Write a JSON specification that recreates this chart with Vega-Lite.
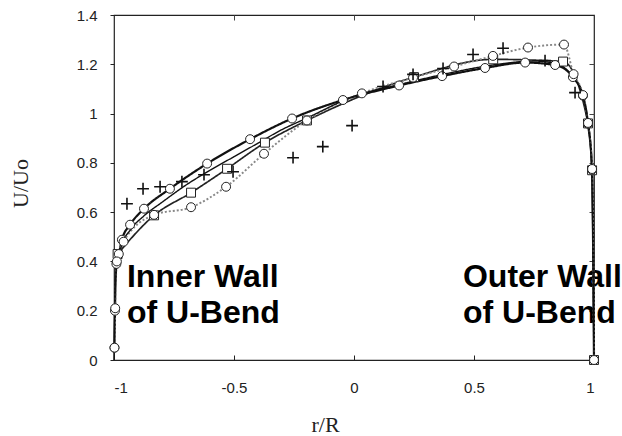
{
  "$schema": "https://vega.github.io/schema/vega-lite/v6.json",
  "width": 480,
  "height": 345,
  "autosize": {"type": "none"},
  "padding": {"left": 114, "top": 15, "right": 28, "bottom": 76},
  "background": "white",
  "config": {
    "view": {"stroke": "#222", "strokeWidth": 1.2},
    "font": "Liberation Sans"
  },
  "datasets": {
    "profiles": [
      {"series": "C", "r": -0.985, "u": 0.43},
      {"series": "C", "r": -0.833, "u": 0.587},
      {"series": "C", "r": -0.679, "u": 0.679},
      {"series": "C", "r": -0.529, "u": 0.776},
      {"series": "C", "r": -0.371, "u": 0.882},
      {"series": "C", "r": -0.196, "u": 0.972},
      {"series": "C", "r": 0.25, "u": 1.148},
      {"series": "C", "r": 0.58, "u": 1.22},
      {"series": "C", "r": 0.871, "u": 1.211},
      {"series": "C", "r": 0.975, "u": 0.96},
      {"series": "C", "r": 0.992, "u": 0.77},
      {"series": "C", "r": 1.0, "u": 0.0},
      {"series": "A", "r": -0.998, "u": 0.05},
      {"series": "A", "r": -0.996, "u": 0.2},
      {"series": "A", "r": -0.99, "u": 0.39},
      {"series": "A", "r": -0.98, "u": 0.43},
      {"series": "A", "r": -0.967, "u": 0.488},
      {"series": "A", "r": -0.933, "u": 0.549},
      {"series": "A", "r": -0.875, "u": 0.614},
      {"series": "A", "r": -0.767, "u": 0.695},
      {"series": "A", "r": -0.612, "u": 0.797},
      {"series": "A", "r": -0.433, "u": 0.896},
      {"series": "A", "r": -0.258, "u": 0.98},
      {"series": "A", "r": -0.046, "u": 1.055},
      {"series": "A", "r": 0.188, "u": 1.114},
      {"series": "A", "r": 0.367, "u": 1.152},
      {"series": "A", "r": 0.546, "u": 1.185},
      {"series": "A", "r": 0.713, "u": 1.207},
      {"series": "A", "r": 0.838, "u": 1.197},
      {"series": "A", "r": 0.912, "u": 1.148},
      {"series": "A", "r": 0.954, "u": 1.073},
      {"series": "A", "r": 0.975, "u": 0.959},
      {"series": "A", "r": 0.992, "u": 0.772},
      {"series": "A", "r": 1.0, "u": 0.0},
      {"series": "B", "r": -0.998, "u": 0.05},
      {"series": "B", "r": -0.995, "u": 0.21},
      {"series": "B", "r": -0.988, "u": 0.4},
      {"series": "B", "r": -0.96, "u": 0.48},
      {"series": "B", "r": -0.833, "u": 0.589},
      {"series": "B", "r": -0.679, "u": 0.62},
      {"series": "B", "r": -0.533, "u": 0.703},
      {"series": "B", "r": -0.375, "u": 0.837},
      {"series": "B", "r": -0.196, "u": 0.972},
      {"series": "B", "r": 0.033, "u": 1.082},
      {"series": "B", "r": 0.246, "u": 1.146},
      {"series": "B", "r": 0.417, "u": 1.191},
      {"series": "B", "r": 0.579, "u": 1.234},
      {"series": "B", "r": 0.725, "u": 1.268},
      {"series": "B", "r": 0.875, "u": 1.28},
      {"series": "B", "r": 0.915, "u": 1.16},
      {"series": "B", "r": 0.954, "u": 1.075},
      {"series": "B", "r": 0.975, "u": 0.962},
      {"series": "B", "r": 0.992, "u": 0.775},
      {"series": "B", "r": 1.0, "u": 0.0},
      {"series": "D", "r": -1.0, "u": 0.0},
      {"series": "D", "r": -0.997, "u": 0.2},
      {"series": "D", "r": -0.99, "u": 0.37},
      {"series": "D", "r": -0.97, "u": 0.46},
      {"series": "D", "r": -0.93, "u": 0.53},
      {"series": "D", "r": -0.875, "u": 0.585},
      {"series": "D", "r": -0.8, "u": 0.64},
      {"series": "D", "r": -0.7, "u": 0.71},
      {"series": "D", "r": -0.6, "u": 0.77},
      {"series": "D", "r": -0.5, "u": 0.825},
      {"series": "D", "r": -0.4, "u": 0.88},
      {"series": "D", "r": -0.3, "u": 0.935},
      {"series": "D", "r": -0.2, "u": 0.98},
      {"series": "D", "r": 0.0, "u": 1.07},
      {"series": "D", "r": 0.2, "u": 1.12},
      {"series": "D", "r": 0.4, "u": 1.165},
      {"series": "D", "r": 0.6, "u": 1.2},
      {"series": "D", "r": 0.75, "u": 1.213},
      {"series": "D", "r": 0.85, "u": 1.2},
      {"series": "D", "r": 0.91, "u": 1.15},
      {"series": "D", "r": 0.95, "u": 1.08},
      {"series": "D", "r": 0.975, "u": 0.96},
      {"series": "D", "r": 0.99, "u": 0.78},
      {"series": "D", "r": 1.0, "u": 0.0}
    ],
    "experiment": [
      {"r": -0.946, "u": 0.634},
      {"r": -0.879, "u": 0.695},
      {"r": -0.808, "u": 0.703},
      {"r": -0.717, "u": 0.724},
      {"r": -0.625, "u": 0.752},
      {"r": -0.504, "u": 0.764},
      {"r": -0.254, "u": 0.821},
      {"r": -0.13, "u": 0.866},
      {"r": -0.008, "u": 0.951},
      {"r": 0.121, "u": 1.11},
      {"r": 0.246, "u": 1.159},
      {"r": 0.371, "u": 1.183},
      {"r": 0.496, "u": 1.24},
      {"r": 0.621, "u": 1.265},
      {"r": 0.796, "u": 1.215},
      {"r": 0.921, "u": 1.085}
    ],
    "walls": [
      {"r": -0.946, "u": 0.297, "label": "Inner Wall"},
      {"r": -0.946, "u": 0.15, "label": "of U-Bend"},
      {"r": 0.454, "u": 0.297, "label": "Outer Wall"},
      {"r": 0.454, "u": 0.15, "label": "of U-Bend"}
    ]
  },
  "layer": [
    {
      "encoding": {
        "x": {
          "field": "r",
          "type": "quantitative",
          "scale": {"domain": [-1, 1], "nice": false, "zero": false},
          "axis": {
            "title": "r/R",
            "values": [-1, -0.5, 0, 0.5, 1],
            "labelExpr": "datum.value + ''",
            "grid": false,
            "domain": false,
            "tickSize": -5,
            "tickColor": "#222",
            "labelPadding": 25,
            "labelFontSize": 15,
            "labelColor": "#222",
            "titleFont": "Liberation Serif",
            "titleFontSize": 22,
            "titleFontWeight": "normal",
            "titleColor": "#222",
            "titleX": 211,
            "titleY": 64,
            "titleBaseline": "middle"
          }
        },
        "y": {
          "field": "u",
          "type": "quantitative",
          "scale": {"domain": [0, 1.4], "nice": false},
          "axis": {
            "title": "U/Uo",
            "values": [0, 0.2, 0.4, 0.6, 0.8, 1, 1.2, 1.4],
            "labelExpr": "datum.value + ''",
            "grid": false,
            "domain": false,
            "tickSize": 4,
            "tickColor": "#222",
            "labelPadding": 13,
            "labelFontSize": 15,
            "labelColor": "#222",
            "titleFont": "Liberation Serif",
            "titleFontSize": 22,
            "titleFontWeight": "normal",
            "titleColor": "#222",
            "titleAngle": -90,
            "titleX": -94,
            "titleY": 168,
            "titleAlign": "center",
            "titleBaseline": "middle"
          }
        }
      },
      "layer": [
        {
          "data": {"name": "walls"},
          "mark": {"type": "text", "font": "Liberation Sans", "fontWeight": "bold", "fontSize": 32, "align": "left", "baseline": "alphabetic", "color": "black"},
          "encoding": {"text": {"field": "label"}}
        },
        {
          "data": {"name": "profiles"},
          "mark": {"type": "line", "interpolate": "monotone"},
          "encoding": {
            "detail": {"field": "series"},
            "color": {
              "field": "series",
              "scale": {"domain": ["A", "B", "C", "D"], "range": ["#111", "#888", "#222", "#111"]},
              "legend": null
            },
            "strokeWidth": {
              "field": "series",
              "type": "nominal",
              "scale": {"domain": ["A", "B", "C", "D"], "range": [2.2, 1.4, 1, 2]},
              "legend": null
            },
            "strokeDash": {
              "field": "series",
              "scale": {"domain": ["A", "B", "C", "D"], "range": [[1, 0], [2, 2], [1, 0], [1, 0]]},
              "legend": null
            }
          }
        },
        {
          "data": {"name": "profiles"},
          "transform": [{"filter": "datum.series != 'D'"}],
          "mark": {"type": "point", "filled": true, "fill": "white", "stroke": "#222", "strokeWidth": 1, "size": 80, "opacity": 1},
          "encoding": {
            "shape": {
              "field": "series",
              "scale": {"domain": ["A", "B", "C"], "range": ["circle", "circle", "square"]},
              "legend": null
            }
          }
        },
        {
          "data": {"name": "experiment"},
          "mark": {"type": "point", "shape": "M-1,0L1,0M0,-1L0,1", "filled": false, "stroke": "#111", "strokeWidth": 1.6, "size": 140, "opacity": 1}
        }
      ]
    },
    {
      "data": {"name": "experiment"},
      "mark": {"type": "point", "opacity": 0},
      "encoding": {
        "x": {
          "field": "r",
          "type": "quantitative",
          "scale": {"domain": [-1, 1], "nice": false, "zero": false},
          "axis": {"orient": "top", "title": null, "labels": false, "domain": false, "grid": false, "values": [-0.5, 0, 0.5], "tickSize": -5, "tickColor": "#444"}
        },
        "y": {
          "field": "u",
          "type": "quantitative",
          "scale": {"domain": [0, 1.4], "nice": false},
          "axis": {"orient": "right", "title": null, "labels": false, "domain": false, "grid": false, "values": [0.2, 0.4, 0.6, 0.8, 1, 1.2], "tickSize": -5, "tickColor": "#444"}
        }
      }
    }
  ],
  "resolve": {"axis": {"x": "independent", "y": "independent"}}
}
